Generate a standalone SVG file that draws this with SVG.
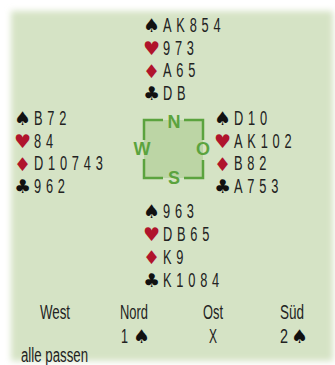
<svg xmlns="http://www.w3.org/2000/svg" width="335" height="365" viewBox="0 0 335 365">
<defs>
<filter id="soft" x="-10%" y="-10%" width="120%" height="120%"><feGaussianBlur stdDeviation="3"/></filter>
<style>
.c{font-family:"Liberation Sans",Arial,sans-serif;font-size:20px;fill:#222;letter-spacing:7.5px}
.s{font-family:"DejaVu Sans",sans-serif;font-size:19px}
.b{fill:#111}
.r{fill:#b0142c}
.bid{font-family:"Liberation Sans",Arial,sans-serif;font-size:20px;fill:#222}
.cp{font-family:"Liberation Sans","DejaVu Sans",sans-serif;font-weight:bold;font-size:18px;fill:#5ba33e;text-anchor:middle}
.ln{stroke:#5ba33e;stroke-width:2.5;fill:none}
</style>
</defs>
<rect x="11" y="11" width="322" height="350" fill="#d5e3c5" filter="url(#soft)"/>
<g id="north">
<text class="s b" x="143" y="32">♠</text>
<text class="s r" x="143" y="55">♥</text>
<text class="s r" x="143" y="77.5">♦</text>
<text class="s b" x="143" y="100">♣</text>
<g transform="translate(163,0) scale(0.64,1)">
<text class="c" x="0" y="32">AK854</text>
<text class="c" x="0" y="55">973</text>
<text class="c" x="0" y="77.5">A65</text>
<text class="c" x="0" y="100">DB</text>
</g>
</g>
<g id="west">
<text class="s b" x="14" y="125">♠</text>
<text class="s r" x="14" y="148">♥</text>
<text class="s r" x="14" y="170.5">♦</text>
<text class="s b" x="14" y="193">♣</text>
<g transform="translate(34,0) scale(0.64,1)">
<text class="c" x="0" y="125">B72</text>
<text class="c" x="0" y="148">84</text>
<text class="c" x="0" y="170.5">D10743</text>
<text class="c" x="0" y="193">962</text>
</g>
</g>
<g id="east">
<text class="s b" x="214" y="125">♠</text>
<text class="s r" x="214" y="148">♥</text>
<text class="s r" x="214" y="170.5">♦</text>
<text class="s b" x="214" y="193">♣</text>
<g transform="translate(234,0) scale(0.64,1)">
<text class="c" x="0" y="125">D10</text>
<text class="c" x="0" y="148">AK102</text>
<text class="c" x="0" y="170.5">B82</text>
<text class="c" x="0" y="193">A753</text>
</g>
</g>
<g id="south">
<text class="s b" x="143" y="218">♠</text>
<text class="s r" x="143" y="241">♥</text>
<text class="s r" x="143" y="264">♦</text>
<text class="s b" x="143" y="287">♣</text>
<g transform="translate(163,0) scale(0.64,1)">
<text class="c" x="0" y="218">963</text>
<text class="c" x="0" y="241">DB65</text>
<text class="c" x="0" y="264">K9</text>
<text class="c" x="0" y="287">K1084</text>
</g>
</g>
<g id="compass">
<rect x="144" y="120" width="59" height="58" fill="#bcd5a5"/>
<path class="ln" d="M163 120H144V140M144 159V178H163M184 178H203V160M203 140V120H184"/>
<text class="cp" x="174" y="128">N</text>
<text class="cp" x="142" y="155">W</text>
<text class="cp" x="203" y="155">O</text>
<text class="cp" x="174" y="184">S</text>
</g>
<g id="bidding">
<text class="bid" x="40" y="319" textLength="30" lengthAdjust="spacingAndGlyphs">West</text>
<text class="bid" x="120" y="319" textLength="28" lengthAdjust="spacingAndGlyphs">Nord</text>
<text class="bid" x="203" y="319" textLength="20" lengthAdjust="spacingAndGlyphs">Ost</text>
<text class="bid" x="280" y="319" textLength="24" lengthAdjust="spacingAndGlyphs">Süd</text>
<text class="bid" x="121" y="343" textLength="7" lengthAdjust="spacingAndGlyphs">1</text>
<text class="s b" x="133" y="343" font-size="16">♠</text>
<text class="bid" x="209" y="343" textLength="8" lengthAdjust="spacingAndGlyphs">X</text>
<text class="bid" x="280" y="343" textLength="8" lengthAdjust="spacingAndGlyphs">2</text>
<text class="s b" x="291" y="343" font-size="16">♠</text>
<text class="bid" x="21" y="362" textLength="67" lengthAdjust="spacingAndGlyphs">alle passen</text>
</g>
</svg>
